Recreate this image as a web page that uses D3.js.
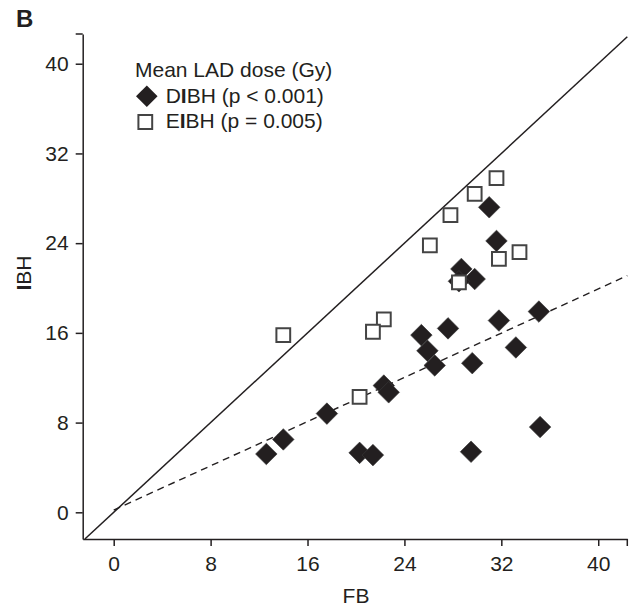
<!DOCTYPE html>
<html>
<head>
<meta charset="utf-8">
<script src="https://cdn.jsdelivr.net/npm/d3@7"></script>
<style>
  body { margin: 0; background: #fff; }
  text { font-family: "Liberation Sans", Arial, Helvetica, sans-serif; fill: #231f20; }
</style>
</head>
<body>
<div id="chart"></div>
<script>
// Data (mean LAD dose, Gy)
var dibhFB  = [31.0, 31.6, 28.7, 29.8, 28.5, 35.1, 31.8, 27.6, 25.4, 25.9, 33.2, 26.5, 29.6, 22.3, 22.7, 17.6, 14.0, 12.6, 20.3, 21.4, 29.5, 35.2];
var dibhIBH = [27.2, 24.2, 21.7, 20.8, 20.6, 17.9, 17.1, 16.4, 15.8, 14.4, 14.7, 13.1, 13.3, 11.3, 10.7, 8.8, 6.5, 5.2, 5.3, 5.1, 5.4, 7.6];
var eibhFB  = [31.6, 29.8, 27.8, 26.1, 33.5, 31.8, 28.5, 22.3, 21.4, 14.0, 20.3];
var eibhIBH = [29.8, 28.4, 26.5, 23.8, 23.2, 22.6, 20.5, 17.2, 16.1, 15.8, 10.3];
var tickValues = [0, 8, 16, 24, 32, 40];
// regression line of DIBH (dashed)
var fitIntercept = 0.2;
var fitSlope = 0.493;

var svgWidth = 630;
var svgHeight = 609;
var ink = "#231f20";

var svg = d3.select("#chart")
    .append("svg")
    .attr("width", svgWidth)
    .attr("height", svgHeight);

// Scales
var x = d3.scaleLinear().domain([-2.56, 42.4]).range([82.7, 627.3]);
var y = d3.scaleLinear().domain([-2.38, 42.65]).range([539, 34]);

// Axes
var xAxis = svg.append("g")
    .attr("transform", `translate(0, ${y.range()[0]})`)
    .call(d3.axisBottom(x).tickValues(tickValues).tickSize(7).tickPadding(10).tickSizeOuter(0));

var yAxis = svg.append("g")
    .attr("transform", `translate(${x.range()[0]}, 0)`)
    .call(d3.axisLeft(y).tickValues(tickValues).tickSize(7).tickPadding(7).tickSizeOuter(0));

[xAxis, yAxis].forEach(function(g) {
    g.selectAll("path, line").attr("stroke", ink).attr("stroke-width", 1.5);
    g.selectAll("text").style("font-size", "21px").attr("fill", ink);
});

// end ticks at the far ends of the axes
svg.append("line")
    .attr("x1", x.range()[1]).attr("x2", x.range()[1])
    .attr("y1", y.range()[0]).attr("y2", y.range()[0] + 7)
    .attr("stroke", ink).attr("stroke-width", 1.5);
svg.append("line")
    .attr("x1", x.range()[0] - 7).attr("x2", x.range()[0])
    .attr("y1", y.range()[1]).attr("y2", y.range()[1])
    .attr("stroke", ink).attr("stroke-width", 1.5);

// Identity line
svg.append("line")
    .attr("x1", x(-2.38)).attr("y1", y(-2.38))
    .attr("x2", x(42.4)).attr("y2", y(42.4))
    .attr("stroke", ink)
    .attr("stroke-width", 1.5);

// Regression line (dashed)
svg.append("line")
    .attr("x1", x(0)).attr("y1", y(fitIntercept))
    .attr("x2", x(42.4)).attr("y2", y(fitIntercept + fitSlope * 42.4))
    .attr("stroke", ink)
    .attr("stroke-width", 1.4)
    .attr("stroke-dasharray", "7,5");

var diamond = d3.symbol().type(d3.symbolSquare).size(232);
var square = d3.symbol().type(d3.symbolSquare).size(190);

// DIBH diamonds
svg.append("g").selectAll("path")
    .data(dibhFB)
    .enter()
    .append("path")
    .attr("d", diamond)
    .attr("transform", (d, i) => `translate(${x(d)}, ${y(dibhIBH[i])}) rotate(45)`)
    .attr("fill", ink)
    .attr("stroke", "#3a3a3a")
    .attr("stroke-width", 0.6);

// EIBH squares
svg.append("g").selectAll("path")
    .data(eibhFB)
    .enter()
    .append("path")
    .attr("d", square)
    .attr("transform", (d, i) => `translate(${x(d)}, ${y(eibhIBH[i])})`)
    .attr("fill", "#fff")
    .attr("stroke", "#444")
    .attr("stroke-width", 2);

// Legend
var legend = svg.append("g");
legend.append("text")
    .attr("x", 135).attr("y", 77)
    .style("font-size", "21px")
    .text("Mean LAD dose (Gy)");

legend.append("path")
    .attr("d", diamond)
    .attr("transform", "translate(146.8, 96.3) rotate(45)")
    .attr("fill", ink);

var t1 = legend.append("text")
    .attr("x", 165.7).attr("y", 102.7)
    .style("font-size", "21px");
t1.append("tspan").text("D");
t1.append("tspan").style("font-weight", "bold").text("I");
t1.append("tspan").text("BH (p < 0.001)");

legend.append("path")
    .attr("d", square)
    .attr("transform", "translate(145.3, 122)")
    .attr("fill", "#fff")
    .attr("stroke", "#444")
    .attr("stroke-width", 2);

var t2 = legend.append("text")
    .attr("x", 165.7).attr("y", 128)
    .style("font-size", "21px");
t2.append("tspan").text("E");
t2.append("tspan").style("font-weight", "bold").text("I");
t2.append("tspan").text("BH (p = 0.005)");

// Axis titles
svg.append("text")
    .attr("x", 356).attr("y", 603)
    .attr("text-anchor", "middle")
    .style("font-size", "21px")
    .text("FB");

var yTitle = svg.append("text")
    .attr("transform", "translate(31, 273) rotate(-90)")
    .attr("text-anchor", "middle")
    .style("font-size", "21px");
yTitle.append("tspan").style("font-weight", "bold").text("I");
yTitle.append("tspan").text("BH");

// Panel letter
svg.append("text")
    .attr("x", 16).attr("y", 27)
    .style("font-size", "24px")
    .style("font-weight", "bold")
    .text("B");
</script>
</body>
</html>
